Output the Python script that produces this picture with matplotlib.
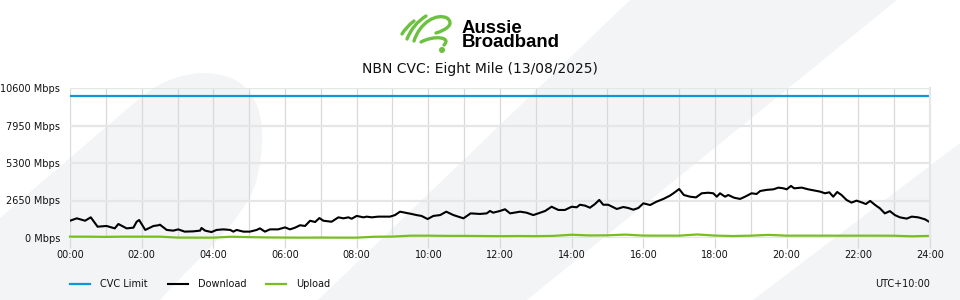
import matplotlib
matplotlib.use("Agg")
import matplotlib.pyplot as plt
from matplotlib.path import Path
from matplotlib.patches import PathPatch, Polygon, Circle

# Download (Mbps), hour of day -> value
dl_hours = [0.0, 0.19, 0.42, 0.58, 0.77, 1.02, 1.25, 1.35, 1.58, 1.77, 1.86, 1.93, 2.1, 2.33, 2.47,
            2.51, 2.7, 2.88, 3.02, 3.2, 3.44, 3.63, 3.67, 3.77, 3.95, 4.09, 4.28, 4.47, 4.56, 4.65,
            4.84, 5.02, 5.21, 5.3, 5.44, 5.58, 5.81, 6.0, 6.14, 6.28, 6.42, 6.56, 6.7, 6.84, 6.96,
            7.07, 7.3, 7.49, 7.63, 7.77, 7.86, 8.0, 8.19, 8.28, 8.42, 8.6, 8.74, 8.93, 9.07, 9.21,
            9.35, 9.53, 9.67, 9.81, 9.98, 10.14, 10.33, 10.5, 10.7, 10.98, 11.18, 11.44, 11.63, 11.72,
            11.81, 12.0, 12.14, 12.28, 12.56, 12.74, 12.93, 13.12, 13.26, 13.44, 13.63, 13.81, 14.0,
            14.14, 14.23, 14.37, 14.51, 14.65, 14.77, 14.88, 15.02, 15.26, 15.44, 15.58, 15.72, 15.86,
            16.0, 16.19, 16.37, 16.56, 16.74, 16.84, 17.0, 17.13, 17.3, 17.47, 17.63, 17.81, 17.95,
            18.05, 18.14, 18.28, 18.37, 18.53, 18.7, 18.84, 19.02, 19.16, 19.26, 19.44, 19.63, 19.77,
            19.91, 20.0, 20.12, 20.21, 20.42, 20.6, 20.79, 20.93, 21.07, 21.19, 21.3, 21.41, 21.53,
            21.67, 21.81, 21.95, 22.09, 22.21, 22.33, 22.47, 22.6, 22.74, 22.88, 23.02, 23.16, 23.35,
            23.49, 23.67, 23.86, 24.0]
dl_mbps = [1220, 1390, 1220, 1460, 800, 850, 680, 990, 680, 730, 1150, 1270, 570, 850, 900,
           940, 570, 520, 610, 450, 470, 520, 710, 520, 420, 570, 610, 570, 450, 570,
           450, 450, 570, 680, 450, 610, 610, 750, 610, 730, 900, 850, 1220, 1130, 1410,
           1220, 1150, 1460, 1390, 1460, 1360, 1560, 1460, 1510, 1460, 1510, 1510, 1510, 1620, 1860,
           1790, 1700, 1620, 1560, 1340, 1560, 1620, 1860, 1620, 1390, 1740, 1700, 1740, 1910,
           1790, 1910, 2030, 1740, 1860, 1790, 1620, 1790, 1910, 2210, 1980, 1980, 2210,
           2170, 2350, 2290, 2140, 2400, 2690, 2350, 2350, 2050, 2190, 2120, 2000, 2120,
           2450, 2330, 2570, 2760, 2990, 3160, 3460, 3040, 2920, 2870, 3160, 3200, 3160,
           2920, 3160, 2920, 3040, 2850, 2760, 2920, 3160, 3110, 3320, 3400, 3440, 3560,
           3510, 3440, 3680, 3510, 3560, 3440, 3350, 3280, 3160, 3230, 2920, 3250, 3040,
           2690, 2500, 2640, 2520, 2400, 2620, 2330, 2100, 1740, 1900, 1620, 1460, 1370,
           1510, 1460, 1320, 1110]

# Upload (Mbps), half-hourly
ul_hours = [h / 2 for h in range(49)]
ul_mbps = [95, 95, 80, 95, 95, 95, 30, 25, 25, 90, 60, 40, 30, 25, 30, 25, 25, 90, 100, 165,
           165, 150, 150, 140, 130, 140, 130, 150, 230, 180, 190, 240, 170, 165, 165, 250, 170,
           140, 165, 220, 165, 165, 165, 165, 165, 165, 160, 120, 150]

cvc_limit = 10000
y_ticks = [0, 2650, 5300, 7950, 10600]
x_ticks = list(range(0, 25, 2))
title = "NBN CVC: Eight Mile (13/08/2025)"

BLUE = "#0b97d8"
GREEN = "#78be20"
LOGO_GREEN = "#6cc13f"
SHADE = "#f3f4f6"

fig = plt.figure(figsize=(9.6, 3.0), dpi=100)

# background layer in pixel coordinates
bg = fig.add_axes([0, 0, 1, 1], zorder=0)
bg.set_xlim(0, 960)
bg.set_ylim(300, 0)
bg.axis("off")

leaf = Path([(0, 300), (0, 218), (140, 98),
             (165, 76), (205, 65), (235, 80),
             (265, 96), (268, 140), (255, 185),
             (240, 225), (200, 255), (160, 300), (0, 300)],
            [Path.MOVETO, Path.LINETO, Path.LINETO,
             Path.CURVE4, Path.CURVE4, Path.CURVE4,
             Path.CURVE4, Path.CURVE4, Path.CURVE4,
             Path.CURVE4, Path.CURVE4, Path.CURVE4, Path.CLOSEPOLY])
bg.add_patch(PathPatch(leaf, facecolor=SHADE, edgecolor="none"))
bg.add_patch(Polygon([(318, 300), (630, 0), (897, 0), (527, 300)], facecolor=SHADE, edgecolor="none"))
bg.add_patch(Polygon([(753, 300), (960, 143), (960, 300)], facecolor=SHADE, edgecolor="none"))

# logo mark (rough)
C3 = [Path.MOVETO, Path.CURVE3, Path.CURVE3]
strokes = [
    ([(402, 34), (406, 27), (414, 21)], C3),
    ([(407, 39), (413, 24), (426, 16)], C3),
    ([(414, 41), (420, 22), (437, 13), (447, 18), (455, 24), (446, 30), (436, 33)],
     [Path.MOVETO] + [Path.CURVE4] * 6),
    ([(421, 42), (434, 35), (452, 37), (444, 45)],
     [Path.MOVETO] + [Path.CURVE4] * 3),
]
for verts, codes in strokes:
    bg.add_patch(PathPatch(Path(verts, codes), facecolor="none", edgecolor=LOGO_GREEN,
                           lw=2.4, capstyle="round", joinstyle="round"))
bg.add_patch(Circle((442, 50), 2.3, color=LOGO_GREEN))

fig.text(0.481, 0.844, "Aussie\nBroadband", family="Liberation Sans", weight="bold",
         fontsize=13.4, va="baseline", ha="left", color="black", linespacing=0.72)
fig.text(0.5, 0.758, title, fontsize=10, ha="center", va="baseline", color="#111111")

# main chart
ax = fig.add_axes([70 / 960, 1 - 238 / 300, 860 / 960, 150 / 300], zorder=1)
ax.patch.set_alpha(0)

ax.plot([0, 24], [cvc_limit, cvc_limit], color=BLUE, lw=1.6, label="CVC Limit")
ax.plot(dl_hours, dl_mbps, color="black", lw=1.5, label="Download")
ax.plot(ul_hours, ul_mbps, color=GREEN, lw=1.6, label="Upload", clip_on=False)

ax.set_xlim(0, 24)
ax.set_ylim(0, 10600)
ax.set_xticks(x_ticks)
ax.set_xticklabels([f"{h:02d}:00" for h in x_ticks])
ax.set_xticks(range(0, 25), minor=True)
ax.set_yticks(y_ticks)
ax.set_yticklabels([f"{v} Mbps" for v in y_ticks])

ax.set_axisbelow(True)
ax.grid(axis="x", which="both", color="#d9d9d9", lw=0.9)
ax.grid(axis="y", color="#e6e6e6", lw=1.6)
for side in ["top", "bottom", "left"]:
    ax.spines[side].set_visible(False)
ax.spines["right"].set_color("#e6e6e6")
ax.spines["right"].set_linewidth(1.6)

ax.tick_params(axis="x", which="major", length=7, color="#d9d9d9", width=0.9, pad=2,
               labelsize=7, labelcolor="#111111")
ax.tick_params(axis="x", which="minor", length=0)
ax.tick_params(axis="y", length=0, pad=7, labelsize=7, labelcolor="#111111")

fig.legend(handles=ax.get_lines(), loc="center left", bbox_to_anchor=(70 / 960, 1 - 284 / 300),
           ncol=3, frameon=False, fontsize=7, handlelength=2.06, handletextpad=1.0,
           columnspacing=2.1, borderpad=0, borderaxespad=0, labelcolor="#111111")
fig.text(930 / 960, 1 - 284 / 300, "UTC+10:00", fontsize=7, ha="right", va="center", color="#111111")

fig.savefig("out.png", dpi=100)
